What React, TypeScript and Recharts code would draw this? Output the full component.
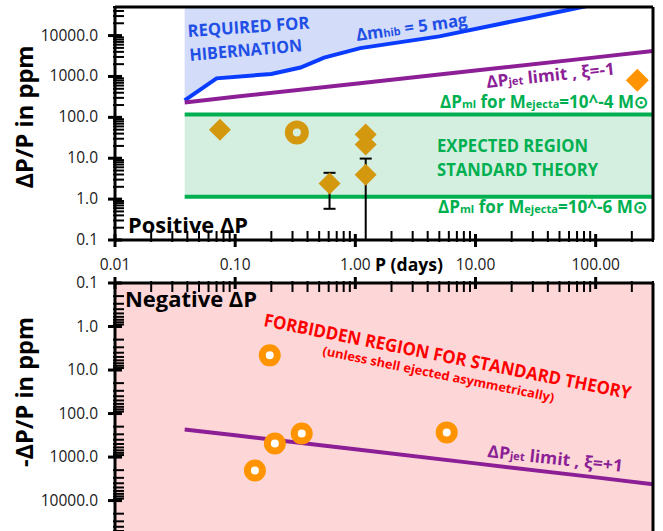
import React from 'react';
import {
  ComposedChart,
  Line,
  Area,
  Scatter,
  XAxis,
  YAxis,
  ErrorBar,
  ReferenceArea,
  ReferenceLine,
  CartesianGrid,
} from 'recharts';

// ---------- axes ----------
const X_DOMAIN: [number, number] = [0.01, 300];
const Y_DOMAIN: [number, number] = [0.1, 50000];
const xMajor = [0.01, 0.1, 1, 10, 100];
const xMajorLabels = ['0.01', '0.10', '1.00', '10.00', '100.00'];
const yMajor = [0.1, 1, 10, 100, 1000, 10000];
const yMajorLabels = ['0.1', '1.0', '10.0', '100.0', '1000.0', '10000.0'];
const minorMultipliers = [2, 3, 4, 5, 6, 7, 8, 9];

const withMinors = (majors: number[], max: number) => {
  const out: number[] = [];
  majors.forEach((m) => {
    out.push(m);
    minorMultipliers.forEach((k) => {
      if (k * m <= max) out.push(k * m);
    });
  });
  return out;
};
const xTicks = withMinors(xMajor, X_DOMAIN[1]);
const yTicks = withMinors(yMajor, Y_DOMAIN[1]);

// ---------- series (positive panel) ----------
const hibP = [0.038, 0.07, 0.2, 0.35, 0.55, 1.1, 5, 30, 110];
const hibV = [260, 900, 1150, 1650, 2900, 4930, 9550, 28200, 62000];
const hibData = hibP.map((p, i) => ({ p, v: hibV[i] }));

const jetP = [0.038, 0.1, 1, 10, 100, 300];
const jetV = [232, 317, 665, 1396, 2930, 4200];
const jetData = jetP.map((p, i) => ({ p, v: jetV[i] }));

const mlP = [0.038, 300];
const mlHigh = 118;
const mlLow = 1.14;
const mlHighData = mlP.map((p) => ({ p, v: mlHigh }));
const mlLowData = mlP.map((p) => ({ p, v: mlLow }));

const goldDiamondP = [0.0747, 1.22, 1.22];
const goldDiamondV = [50, 38, 21.6];
const goldDiamonds = goldDiamondP.map((p, i) => ({ p, v: goldDiamondV[i] }));

const errP = [0.61, 1.22];
const errV = [2.4, 3.95];
const errLow = [1.82, 3.85];
const errHigh = [2.0, 5.85];
const errPoints = errP.map((p, i) => ({ p, v: errV[i], err: [errLow[i], errHigh[i]] }));

const goldRing = [{ p: 0.326, v: 42.6 }];
const orangeDiamond = [{ p: 222, v: 807 }];

// ---------- series (negative panel) ----------
const negP = [0.194, 0.214, 0.358, 0.146, 5.76];
const negV = [4.6, 486, 286, 2040, 271];
const negRings = negP.map((p, i) => ({ p, v: negV[i] }));

// ---------- styling ----------
const FONT = "'Open Sans', 'Noto Sans', sans-serif";
const GOLD = '#d4980f';
const ORANGE = '#ff9300';
const BLUE = '#0a3cff';
const PURPLE = '#8c1f96';
const GREEN = '#00b050';
const RED = '#ff0000';

const majorIndex = (v: number, majors: number[]) =>
  majors.findIndex((m) => Math.abs(v / m - 1) < 1e-6);

const YTick = (props: any) => {
  const { x, y, payload } = props;
  const idx = majorIndex(payload.value, yMajor);
  if (idx >= 0) {
    return (
      <g>
        <line x1={x - 7} x2={x + 7} y1={y} y2={y} stroke="#000" strokeWidth={3} />
        <text x={x - 17} y={y} dy={5} textAnchor="end" fontSize={15.5} fill="#1a1a1a">
          {yMajorLabels[idx]}
        </text>
      </g>
    );
  }
  return (
    <g>
      <line x1={x - 2} x2={x + 9} y1={y} y2={y} stroke="#000" strokeWidth={2} />
    </g>
  );
};

const XTickBottom = (props: any) => {
  const { x, y, payload } = props;
  const idx = majorIndex(payload.value, xMajor);
  if (idx >= 0) {
    return (
      <g>
        <line x1={x} x2={x} y1={y - 6} y2={y + 7} stroke="#000" strokeWidth={3} />
        <text x={x} y={y + 30} textAnchor="middle" fontSize={15.5} fill="#1a1a1a">
          {xMajorLabels[idx]}
        </text>
      </g>
    );
  }
  return (
    <g>
      <line x1={x} x2={x} y1={y - 9} y2={y + 2} stroke="#000" strokeWidth={2} />
    </g>
  );
};

const XTickTop = (props: any) => {
  const { x, y, payload } = props;
  const idx = majorIndex(payload.value, xMajor);
  if (idx >= 0) {
    return <line x1={x} x2={x} y1={y - 6} y2={y + 6} stroke="#000" strokeWidth={3} />;
  }
  return (
    <g>
      <line x1={x} x2={x} y1={y - 2} y2={y + 9} stroke="#000" strokeWidth={2} />
    </g>
  );
};

const diamond = (color: string, h: number) => (props: any) => {
  const { cx, cy } = props;
  return (
    <polygon
      points={`${cx},${cy - h} ${cx + h},${cy} ${cx},${cy + h} ${cx - h},${cy}`}
      fill={color}
    />
  );
};

const ring = (color: string, fill: string, r: number, sw: number) => (props: any) => (
  <circle cx={props.cx} cy={props.cy} r={r} stroke={color} strokeWidth={sw} fill={fill} />
);

const T = ({ x, y, rot = 0, size, color, len, anchor = 'start', children }: any) => (
  <text
    x={x}
    y={y}
    fontSize={size}
    fill={color}
    fontWeight={700}
    textLength={len}
    lengthAdjust="spacingAndGlyphs"
    textAnchor={anchor}
    transform={rot ? `rotate(${rot} ${x} ${y})` : undefined}
  >
    {children}
  </text>
);

const axisLine = { stroke: '#000', strokeWidth: 3 };

export default function App() {
  return (
    <div
      style={{
        position: 'absolute',
        left: 0,
        top: 0,
        width: 663,
        height: 531,
        background: '#fff',
        fontFamily: FONT,
        overflow: 'hidden',
      }}
    >
      <div style={{ position: 'absolute', left: 0, top: 0 }}>
        <ComposedChart width={663} height={282} margin={{ top: 7, right: 10, bottom: 0, left: 0 }}>
          <XAxis
            type="number"
            dataKey="p"
            scale="log"
            domain={X_DOMAIN}
            allowDataOverflow
            ticks={xTicks}
            interval={0}
            tick={(p: any) => <XTickBottom {...p} />}
            tickLine={false}
            tickSize={0}
            tickMargin={0}
            axisLine={axisLine}
            height={42}
          />
          <YAxis
            type="number"
            dataKey="v"
            scale="log"
            domain={Y_DOMAIN}
            allowDataOverflow
            ticks={yTicks}
            interval={0}
            tick={(p: any) => <YTick {...p} />}
            tickLine={false}
            tickSize={0}
            tickMargin={0}
            axisLine={axisLine}
            width={115}
          />
          <ReferenceArea
            x1={mlP[0]}
            x2={mlP[1]}
            y1={mlLow}
            y2={mlHigh}
            fill="#d4efe0"
            fillOpacity={1}
            stroke="none"
          />
          <Area
            data={hibData}
            dataKey="v"
            type="linear"
            baseValue="dataMax"
            stroke={BLUE}
            strokeWidth={4}
            fill="#d3dcf9"
            fillOpacity={1}
            dot={false}
            activeDot={false}
            isAnimationActive={false}
          />
          <Line data={jetData} dataKey="v" type="linear" stroke={PURPLE} strokeWidth={4} dot={false} activeDot={false} isAnimationActive={false} />
          <Line data={mlHighData} dataKey="v" type="linear" stroke={GREEN} strokeWidth={4} dot={false} activeDot={false} isAnimationActive={false} />
          <Line data={mlLowData} dataKey="v" type="linear" stroke={GREEN} strokeWidth={4} dot={false} activeDot={false} isAnimationActive={false} />
          <ReferenceLine y={Y_DOMAIN[1]} stroke="#000" strokeWidth={3} />
          <ReferenceLine x={X_DOMAIN[1]} stroke="#000" strokeWidth={3} />
          <Scatter data={errPoints} dataKey="v" shape={diamond(GOLD, 11)} isAnimationActive={false}>
            <ErrorBar dataKey="err" direction="y" width={6} stroke="#000" strokeWidth={2} />
          </Scatter>
          <Scatter data={goldDiamonds} dataKey="v" shape={diamond(GOLD, 11)} isAnimationActive={false} />
          <Scatter data={goldRing} dataKey="v" shape={ring(GOLD, 'none', 8, 8)} isAnimationActive={false} />
          <Scatter data={orangeDiamond} dataKey="v" shape={diamond(ORANGE, 11.5)} isAnimationActive={false} />
        </ComposedChart>
      </div>

      <div style={{ position: 'absolute', left: 0, top: 263 }}>
        <ComposedChart width={663} height={268} margin={{ top: 0, right: 10, bottom: 0, left: 0 }}>
          <CartesianGrid horizontal={false} vertical={false} fill="#fdd7d7" fillOpacity={1} stroke="none" />
          <XAxis
            type="number"
            dataKey="p"
            scale="log"
            orientation="top"
            domain={X_DOMAIN}
            allowDataOverflow
            ticks={xTicks}
            interval={0}
            tick={(p: any) => <XTickTop {...p} />}
            tickLine={false}
            tickSize={0}
            tickMargin={0}
            axisLine={axisLine}
            height={20}
          />
          <YAxis
            type="number"
            dataKey="v"
            scale="log"
            reversed
            domain={Y_DOMAIN}
            allowDataOverflow
            ticks={yTicks}
            interval={0}
            tick={(p: any) => <YTick {...p} />}
            tickLine={false}
            tickSize={0}
            tickMargin={0}
            axisLine={axisLine}
            width={115}
          />
          <Line data={jetData} dataKey="v" type="linear" stroke={PURPLE} strokeWidth={4} dot={false} activeDot={false} isAnimationActive={false} />
          <ReferenceLine x={X_DOMAIN[1]} stroke="#000" strokeWidth={3} />
          <Scatter data={negRings} dataKey="v" shape={ring(ORANGE, '#fff', 7.5, 7)} isAnimationActive={false} />
        </ComposedChart>
      </div>

      <svg
        width={663}
        height={531}
        style={{ position: 'absolute', left: 0, top: 0, pointerEvents: 'none' }}
      >
        <T x={33} y={117} rot={-90} size={24} color="#000" len={143} anchor="middle">ΔP/P in ppm</T>
        <T x={33} y={392} rot={-90} size={24} color="#000" len={150} anchor="middle">-ΔP/P in ppm</T>
        <T x={128} y={233} size={21} color="#000" len={120}>Positive ΔP</T>
        <T x={125} y={307} size={21} color="#000" len={132}>Negative ΔP</T>
        <T x={375} y={271} size={18} color="#000" len={68}>P (days)</T>

        <T x={188} y={37} rot={-4} size={17} color="#1f4fe6" len={122}>REQUIRED FOR</T>
        <T x={190} y={61} rot={-5} size={17} color="#1f4fe6" len={113}>HIBERNATION</T>
        <T x={357} y={41} rot={-8} size={17} color="#1f4fe6" len={112}>
          Δm<tspan fontSize={11}>hib</tspan> = 5 mag
        </T>
        <T x={487} y={88} rot={-6} size={17} color={PURPLE} len={129}>
          ΔP<tspan fontSize={11}>jet</tspan> limit , ξ=-1
        </T>
        <T x={440} y={108} size={17} color={GREEN} len={208}>
          ΔP<tspan fontSize={11}>ml</tspan> for M<tspan fontSize={11}>ejecta</tspan>=10^-4 M⊙
        </T>
        <T x={437} y={152} size={17} color={GREEN} len={151}>EXPECTED REGION</T>
        <T x={437} y={176} size={17} color={GREEN} len={161}>STANDARD THEORY</T>
        <T x={438} y={213} size={17} color={GREEN} len={209}>
          ΔP<tspan fontSize={11}>ml</tspan> for M<tspan fontSize={11}>ejecta</tspan>=10^-6 M⊙
        </T>

        <T x={263} y={326} rot={11.3} size={18} color={RED} len={374}>FORBIDDEN REGION FOR STANDARD THEORY</T>
        <T x={322} y={355} rot={11.5} size={12.5} color={RED} len={236}>(unless shell ejected asymmetrically)</T>
        <T x={487} y={457} rot={6.3} size={17} color={PURPLE} len={136}>
          ΔP<tspan fontSize={11}>jet</tspan>  limit , ξ=+1
        </T>
      </svg>
    </div>
  );
}
